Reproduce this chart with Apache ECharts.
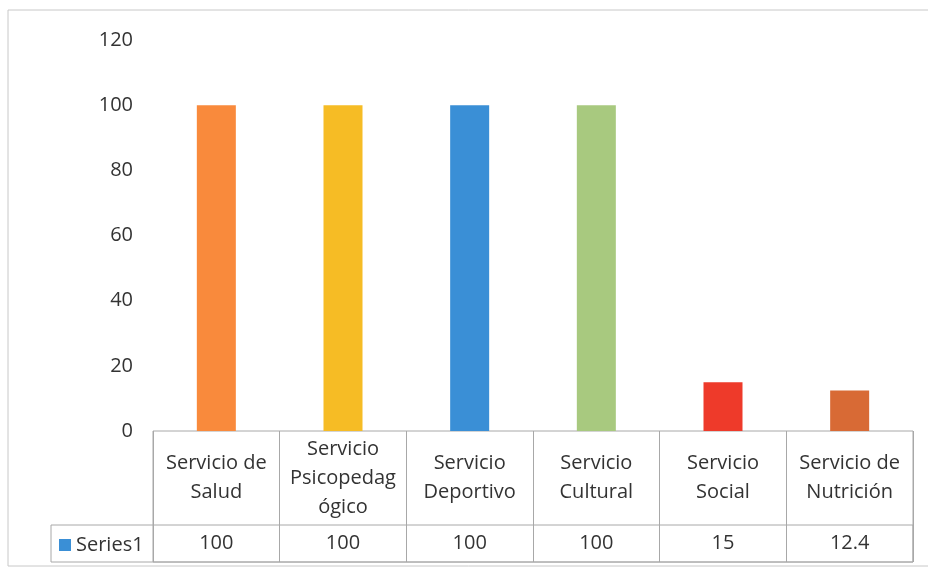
<!DOCTYPE html>
<html><head><meta charset="utf-8">
<script src="https://cdn.jsdelivr.net/npm/echarts@6/dist/echarts.min.js"></script>
<style>html,body{margin:0;padding:0;background:#fff}#c{width:928px;height:568px}</style>
</head><body><div id="c"></div>
<script>
const categories = ['Servicio de\nSalud','Servicio\nPsicopedag\nógico','Servicio\nDeportivo','Servicio\nCultural','Servicio\nSocial','Servicio de\nNutrición'];
const values = [100, 100, 100, 100, 15, 12.4];
const valueLabels = ['100','100','100','100','15','12.4'];
const barColors = ['#F98A3C','#F6BC25','#3A8FD6','#A8C97F','#EE3A2A','#D86A35'];
const yTicks = [0, 20, 40, 60, 80, 100, 120];
const seriesName = 'Series1';

const font = 'Open Sans';
const txt = '#333';
const line = '#a8a8a8';

const chart = echarts.init(document.getElementById('c'));
chart.setOption({
  animation: false,
  textStyle: {fontFamily: font},
  graphic: [{type:'rect', shape:{x:8, y:10, width:940, height:556}, style:{fill:'none', stroke:'#c8c8c8', lineWidth:1}, silent:true}],
  legend: {
    data: [seriesName], left: 54, top: 530, icon: 'rect', itemWidth: 12, itemHeight: 12, itemGap: 6,
    textStyle: {fontSize: 20, color: txt, fontFamily: font}
  },
  grid: [
    {left: 153, right: 15, top: 40, bottom: 137},
    {left: 153, right: 15, top: 431, height: 131, show: true, borderColor: line, borderWidth: 1},
    {left: 51, right: 15, top: 525, height: 37, show: true, borderColor: line, borderWidth: 1}
  ],
  xAxis: [
    {type:'category', gridIndex:0, data:categories, axisLine:{show:false}, axisTick:{show:false},
     axisLabel:{margin:47, verticalAlign:'middle', fontSize:20, lineHeight:29, color:txt, fontFamily:font, interval:0}},
    {type:'category', gridIndex:0, position:'bottom', data:categories, axisLine:{show:false}, axisTick:{show:false},
     axisLabel:{margin:112, verticalAlign:'middle', fontSize:20, color:txt, fontFamily:font, interval:0,
       formatter:(v, i) => valueLabels[i]}},
    {type:'category', gridIndex:1, data:categories, axisLine:{show:false}, axisTick:{show:false}, axisLabel:{show:false},
     splitLine:{show:true, interval:0, lineStyle:{color:line, width:1}}},
    {type:'value', gridIndex:2, show:false}
  ],
  yAxis: [
    {type:'value', gridIndex:0, min:yTicks[0], max:yTicks[yTicks.length-1], interval:20,
     axisLine:{show:false}, axisTick:{show:false}, splitLine:{show:false},
     axisLabel:{margin:20, fontSize:20, color:txt, fontFamily:font}},
    {type:'value', gridIndex:1, show:false},
    {type:'value', gridIndex:2, show:false}
  ],
  series: [{
    name: seriesName, type: 'bar', xAxisIndex: 0, yAxisIndex: 0, barWidth: 39,
    itemStyle: {color: '#3A8FD6'},
    data: values.map((v, i) => ({value: v, itemStyle: {color: barColors[i]}}))
  }]
});
</script></body></html>
